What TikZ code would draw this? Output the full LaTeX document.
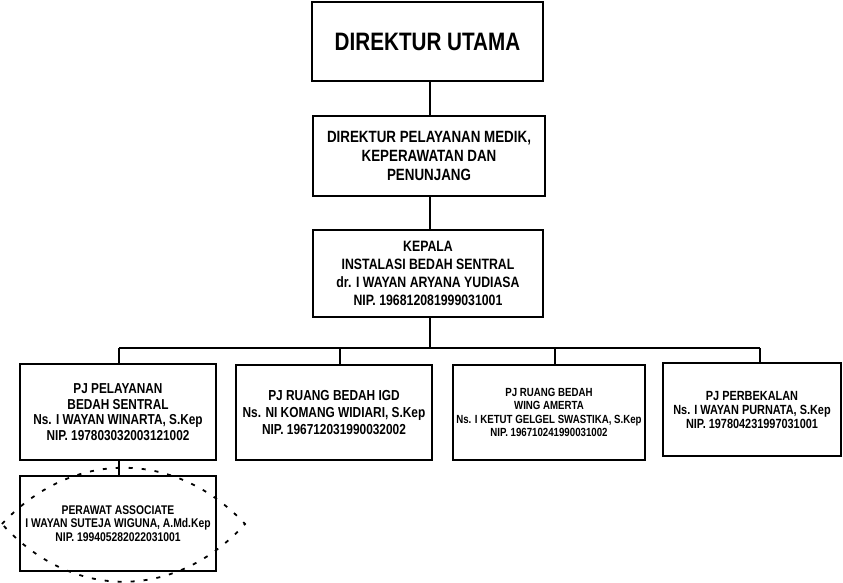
\documentclass[tikz,border=0pt]{standalone}
\usepackage{fontspec}
\setmainfont{Liberation Sans}[FakeStretch=0.82]
\usetikzlibrary{calc}

\begin{document}
\begin{tikzpicture}[x=1pt,y=-1pt,
  box/.style={draw=black,line width=1.8pt,align=center,inner sep=0pt},
  link/.style={draw=black,line width=1.4pt},
  lens/.style={draw=black,line width=1.8pt,dash pattern=on 4pt off 9pt}
]
\useasboundingbox (0,0) rectangle (843,583);

\node[box,minimum width=231pt,minimum height=79pt,font=\fontsize{25.2}{27}\selectfont\bfseries] (direktur) at (427.5,41.5) {DIREKTUR UTAMA};
\node[box,minimum width=232pt,minimum height=80pt,font=\fontsize{16.3}{18.7}\selectfont\bfseries] (pelayanan) at (429,156) {DIREKTUR PELAYANAN MEDIK,\\KEPERAWATAN DAN\\PENUNJANG};
\node[box,minimum width=230pt,minimum height=87pt,font=\fontsize{15}{18}\selectfont\bfseries] (kepala) at (428,273.5) {KEPALA\\INSTALASI BEDAH SENTRAL\\dr. I WAYAN ARYANA YUDIASA\\NIP. 196812081999031001};

\node[box,minimum width=196pt,minimum height=96pt,font=\fontsize{14.4}{15.7}\selectfont\bfseries] (pjBedah) at (118,412) {PJ PELAYANAN\\BEDAH SENTRAL\\Ns. I WAYAN WINARTA, S.Kep\\NIP. 197803032003121002};
\node[box,minimum width=196pt,minimum height=95pt,font=\fontsize{14.5}{16.7}\selectfont\bfseries] (pjIgd) at (334,412.5) {PJ RUANG BEDAH IGD\\Ns. NI KOMANG WIDIARI, S.Kep\\NIP. 196712031990032002};
\node[box,minimum width=192pt,minimum height=95pt,font=\fontsize{11.8}{13.3}\selectfont\bfseries] (pjWing) at (549,412.5) {PJ RUANG BEDAH\\WING AMERTA\\Ns. I KETUT GELGEL SWASTIKA, S.Kep\\NIP. 196710241990031002};
\node[box,minimum width=178pt,minimum height=93pt,font=\fontsize{13.3}{14}\selectfont\bfseries] (pjBekal) at (752,409.5) {PJ PERBEKALAN\\Ns. I WAYAN PURNATA, S.Kep\\NIP. 197804231997031001};
\node[box,minimum width=196pt,minimum height=95pt,font=\fontsize{12.6}{13.3}\selectfont\bfseries] (perawat) at (118,523.5) {PERAWAT ASSOCIATE\\I WAYAN SUTEJA WIGUNA, A.Md.Kep\\NIP. 199405282022031001};

% garis komando
\coordinate (trunk) at (430,348);
\coordinate (busLeft) at (119,348);
\coordinate (busRight) at (760,348);
\draw[link] (direktur.south -| trunk) -- (pelayanan.north -| trunk);
\draw[link] (pelayanan.south -| trunk) -- (kepala.north -| trunk);
\draw[link] (kepala.south -| trunk) -- (trunk);
\draw[link] (busLeft) -- (busRight);
\foreach \n/\x in {pjBedah/119,pjIgd/340,pjWing/555,pjBekal/760}{
  \coordinate (drop) at (\x,348);
  \draw[link] (drop) -- (drop |- \n.north);
}
\draw[link] (pjBedah.south -| busLeft) -- (perawat.north -| busLeft);

% garis putus-putus
\coordinate (lensL) at (2,524);
\coordinate (lensR) at (245,524);
\draw[lens] (lensL) .. controls (72,449) and (175,449) .. (lensR)
  .. controls (175,601) and (72,601) .. (lensL);
\end{tikzpicture}
\end{document}
